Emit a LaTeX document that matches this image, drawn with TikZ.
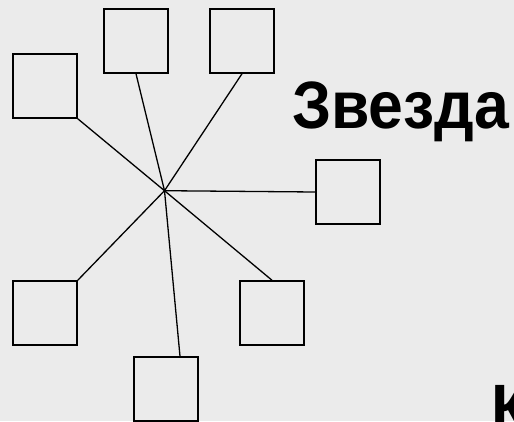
\documentclass[tikz,border=0pt]{standalone}
\usepackage{fontspec}
\setmainfont{Liberation Sans}
\newsavebox{\starword}
\begin{document}
\sbox{\starword}{\bfseries\fontsize{67}{67}\selectfont Звезда}
\pgfmathsetmacro{\squeeze}{217/\the\wd\starword}
\begin{tikzpicture}[x=1pt,y=-1pt,
  box/.style={draw=black,line width=1.5pt,minimum size=64pt,inner sep=0pt,fill=none},
  link/.style={draw=black,line width=1.3pt},
  title/.style={anchor=base west,inner sep=0pt,font=\bfseries\fontsize{67}{67}\selectfont}]
  % page and background
  \fill[fill={rgb,255:red,235;green,235;blue,235}] (0,0) rectangle (514,421);
  \useasboundingbox (0,0) rectangle (514,421);
  \clip (0,0) rectangle (514,421);
  % hub of the star
  \coordinate (hub) at (164.5,190.7);
  % stations
  \node[box] (a) at (45,86) {};
  \node[box] (b) at (136,41) {};
  \node[box] (c) at (242,41) {};
  \node[box] (d) at (348,192) {};
  \node[box] (e) at (45,313) {};
  \node[box] (f) at (166,389) {};
  \node[box] (g) at (272,313) {};
  % links to the hub
  \draw[link] (a.south east) -- (hub);
  \draw[link] (b.south) -- (hub);
  \draw[link] (c.south) -- (hub);
  \draw[link] (d.west) -- (hub);
  \draw[link] (e.north east) -- (hub);
  \draw[link] ([xshift=14pt]f.north) -- (hub);
  \draw[link] (g.north) -- (hub);
  % captions
  \node[title] (star) at (292,128) {\scalebox{\squeeze}[1]{Звезда}};
  \node[title] (ring) at (491,431) {\scalebox{\squeeze}[1]{К}};
\end{tikzpicture}
\end{document}
